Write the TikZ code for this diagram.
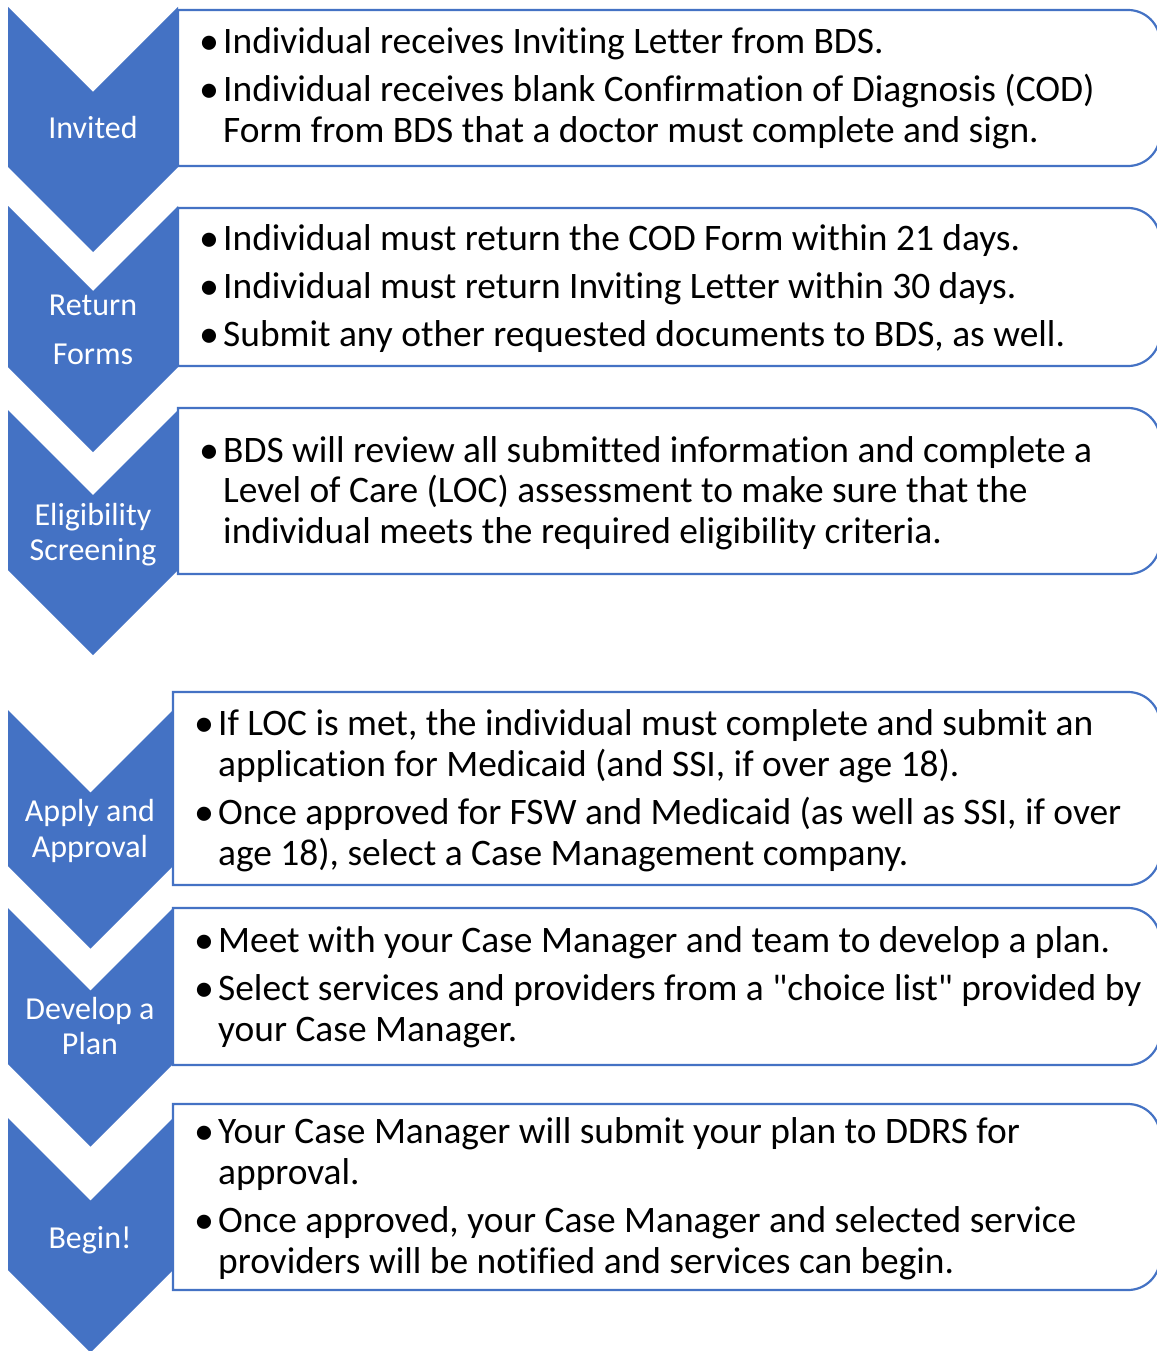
\documentclass[tikz,border=0pt]{standalone}
\usepackage{fontspec}
\setmainfont{Carlito}[Ligatures={TeXOff,CommonOff,ContextualOff}]
\definecolor{chevblue}{HTML}{4472C4}
\tikzset{
  chev/.style={fill=chevblue, draw=none},
  boxline/.style={draw=chevblue, line width=2.2pt, fill=white},
  body/.style={anchor=base west, inner sep=0pt, font=\fontsize{37.4}{41}\selectfont, text=black},
  bul/.style={anchor=base west, inner sep=0pt, font=\fontsize{40}{41}\selectfont, text=black},
  lab/.style={anchor=base, inner sep=0pt, font=\fontsize{32}{36}\selectfont, text=white},
}
% chevron: x1, x2, ytop, ybot (pixel coords, y down)
\newcommand{\mychev}[4]{%
  \pgfmathsetmacro{\hw}{(#2-#1)/2}%
  \pgfmathsetmacro{\xm}{(#1+#2)/2}%
  \fill[chev] (#1,#3) -- (\xm,#3+\hw) -- (#2,#3) -- (#2,#4) -- (\xm,#4+\hw) -- (#1,#4) -- cycle;}
% box with rounded right corners: x1, ytop, ybot
\newcommand{\mybox}[3]{%
  \draw[boxline] (#1,#2) -- (1128,#2) arc[start angle=270,end angle=360,radius=32] -- (1160,#3-32) arc[start angle=0,end angle=90,radius=32] -- (#1,#3) -- cycle;}
\begin{document}
\begin{tikzpicture}[x=1pt,y=-1pt]
\useasboundingbox (0,0) rectangle (1156,1351);
\fill[white] (0,0) rectangle (1156,1351);
% chevrons
\mychev{8}{178}{7}{167}
\mychev{8}{178}{206}{367}
\mychev{8}{178}{410}{570}
\mychev{8}{173}{710}{866}
\mychev{8}{173}{908}{1064}
\mychev{8}{173}{1118}{1270}
% boxes
\mybox{178}{10}{166}
\mybox{178}{208}{366}
\mybox{178}{408}{574}
\mybox{173}{692}{885}
\mybox{173}{908}{1065}
\mybox{173}{1104}{1290}
% chevron labels
\node[lab] (l1) at (93,139) {Invited};
\node[lab] (l2a) at (93,315) {Return};
\node[lab] (l2b) at (93,364) {Forms};
\node[lab] (l3a) at (93,525) {Eligibility};
\node[lab] (l3b) at (93,560) {Screening};
\node[lab] (l4a) at (90,821) {Apply and};
\node[lab] (l4b) at (90,857) {Approval};
\node[lab] (l5a) at (90,1019) {Develop a};
\node[lab] (l5b) at (90,1054) {Plan};
\node[lab] (l6) at (90,1248) {Begin!};
% box 1
\node[bul] (b1a) at (199,55) {•};
\node[body] (t1a) at (223,54) {Individual receives Inviting Letter from BDS.};
\node[bul] (b1b) at (199,103) {•};
\node[body] (t1b) at (223,102) {Individual receives blank Confirmation of Diagnosis (COD)};
\node[body] (t1c) at (223,143) {Form from BDS that a doctor must complete and sign.};
% box 2
\node[bul] (b2a) at (199,251) {•};
\node[body] (t2a) at (223,250) {Individual must return the COD Form within 21 days.};
\node[bul] (b2b) at (199,299) {•};
\node[body] (t2b) at (223,298) {Individual must return Inviting Letter within 30 days.};
\node[bul] (b2c) at (199,347) {•};
\node[body] (t2c) at (223,346) {Submit any other requested documents to BDS, as well.};
% box 3
\node[bul] (b3a) at (199,463) {•};
\node[body] (t3a) at (223,462) {BDS will review all submitted information and complete a};
\node[body] (t3b) at (223,502) {Level of Care (LOC) assessment to make sure that the};
\node[body] (t3c) at (223,543) {individual meets the required eligibility criteria.};
% box 4
\node[bul] (b4a) at (194,736) {•};
\node[body] (t4a) at (218,735) {If LOC is met, the individual must complete and submit an};
\node[body] (t4b) at (218,776) {application for Medicaid (and SSI, if over age 18).};
\node[bul] (b4b) at (194,825) {•};
\node[body] (t4c) at (218,824) {Once approved for FSW and Medicaid (as well as SSI, if over};
\node[body] (t4d) at (218,865) {age 18), select a Case Management company.};
% box 5
\node[bul] (b5a) at (194,953) {•};
\node[body] (t5a) at (218,952) {Meet with your Case Manager and team to develop a plan.};
\node[bul] (b5b) at (194,1001) {•};
\node[body] (t5b) at (218,1000) {Select services and providers from a "choice list" provided by};
\node[body] (t5c) at (218,1041) {your Case Manager.};
% box 6
\node[bul] (b6a) at (194,1144) {•};
\node[body] (t6a) at (218,1143) {Your Case Manager will submit your plan to DDRS for};
\node[body] (t6b) at (218,1184) {approval.};
\node[bul] (b6b) at (194,1233) {•};
\node[body] (t6c) at (218,1232) {Once approved, your Case Manager and selected service};
\node[body] (t6d) at (218,1273) {providers will be notified and services can begin.};
\end{tikzpicture}
\end{document}
